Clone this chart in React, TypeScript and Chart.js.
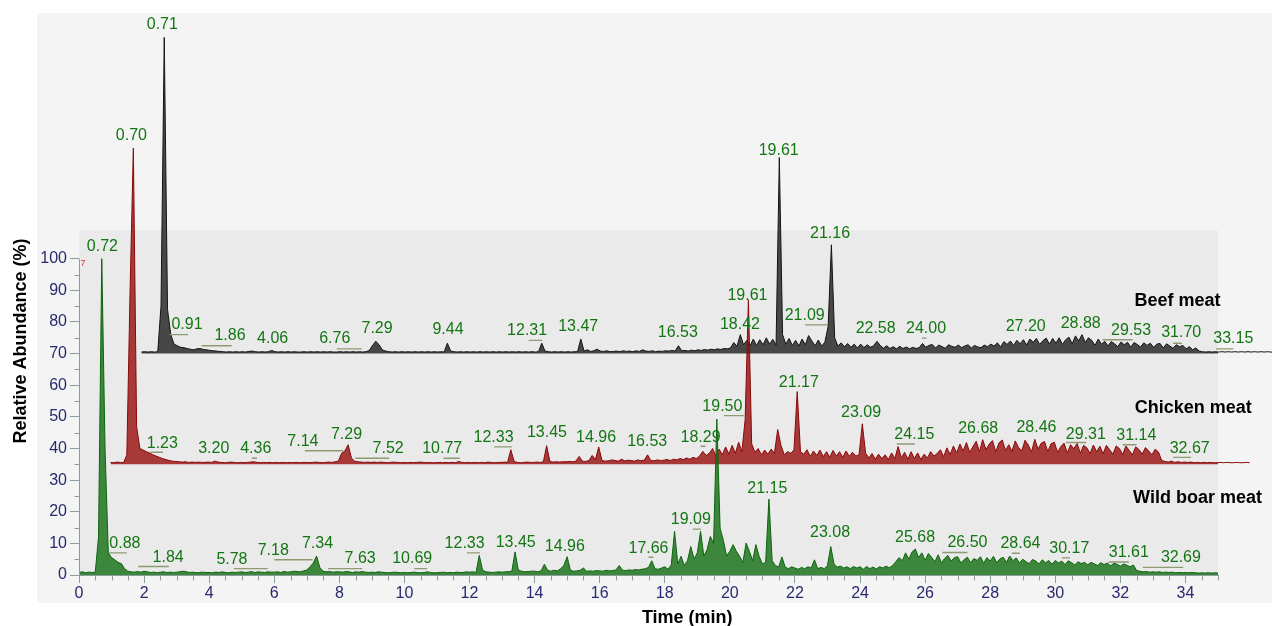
import React, { useEffect, useRef } from "react";
import { Chart, registerables } from "chart.js";

Chart.register(...registerables);

const FONT = "'Liberation Sans', Arial, Helvetica, sans-serif";

// Shared retention-time grid of every run (minutes)
const TIME_START = 0;
const TIME_STEP = 0.1;

// Relative abundance (%) of each run, one value per 0.1 min, 0.0 .. 35.0 min
const boarMeat: number[] = [
  0.8, 1.0, 0.7, 0.9, 0.8, 0.9, 12, 100, 40, 7.0,
  5.5, 4.8, 4.0, 3.6, 2.0, 1.2, 1.0, 0.9, 1.1, 0.9,
  1.2, 1.0, 0.8, 0.9, 0.7, 0.9, 1.0, 0.8, 0.9, 0.8,
  0.9, 1.0, 1.2, 1.0, 0.8, 0.9, 0.7, 0.8, 0.9, 0.8,
  0.8, 0.7, 0.9, 0.8, 1.0, 0.8, 0.7, 0.9, 0.8, 0.9,
  1.0, 0.8, 0.9, 1.1, 0.8, 1.0, 0.9, 0.8, 1.0, 0.9,
  0.9, 1.0, 0.8, 1.1, 0.9, 1.0, 1.2, 1.1, 1.0, 1.3,
  1.6, 2.6, 3.8, 6.0, 2.4, 1.2, 1.0, 1.1, 0.9, 1.0,
  1.0, 0.9, 1.1, 1.0, 0.8, 1.0, 0.9, 1.1, 0.9, 0.8,
  0.9, 0.8, 1.0, 0.9, 0.8, 0.7, 0.8, 0.9, 0.8, 0.7,
  0.8, 0.7, 0.8, 0.9, 0.8, 0.7, 0.8, 1.0, 0.8, 0.7,
  0.7, 0.8, 0.9, 0.7, 0.8, 0.7, 0.9, 0.8, 0.8, 1.0,
  0.9, 1.0, 0.8, 6.2, 1.6, 1.0, 0.9, 0.8, 0.9, 1.0,
  0.9, 1.0, 1.1, 1.2, 7.3, 1.5, 1.2, 1.0, 1.1, 1.2,
  1.2, 1.0, 1.3, 3.4, 1.5, 1.2, 1.5, 1.3, 2.0, 3.0,
  5.8, 1.5, 1.2, 1.3, 1.5, 2.2, 1.2, 1.3, 1.2, 1.4,
  1.3, 1.2, 1.5, 1.3, 1.4, 1.6, 3.0, 1.5, 1.4, 1.6,
  1.5, 1.7, 1.6, 1.8, 2.0, 2.4, 4.5, 2.0, 1.8, 2.2,
  2.6, 1.8, 3.2, 13.8, 3.5, 5.9, 3.0, 4.6, 9.0, 5.0,
  7.0, 13.8, 6.0, 8.0, 12.2, 10.0, 49.3, 14.8, 11.0, 6.0,
  7.5, 9.6, 7.5, 5.9, 4.0, 10.1, 7.5, 4.5, 9.6, 5.9,
  3.5, 4.0, 24.0, 4.5, 3.0, 2.5, 5.7, 2.5, 2.0, 2.6,
  2.2, 1.8, 2.4, 2.0, 2.6, 2.2, 4.8, 2.0, 2.4, 2.0,
  3.0, 9.0, 3.5, 2.5, 2.8, 2.2, 2.6, 2.0, 2.7, 2.2,
  2.6, 1.8, 2.7, 2.0, 2.5, 1.9, 2.6, 2.2, 2.8, 2.3,
  3.0, 4.2, 5.5, 4.5, 7.0, 5.0, 7.3, 8.2, 5.5, 7.0,
  4.6, 6.8, 5.6, 4.2, 6.4, 3.9, 5.2, 6.2, 4.4, 5.5,
  5.8, 3.8, 4.9, 5.6, 3.9, 5.2, 4.6, 5.8, 3.7, 5.5,
  4.4, 5.9, 3.9, 5.1, 5.6, 4.0, 6.0, 4.5, 5.4, 3.8,
  5.0, 4.2, 3.6, 4.9, 4.4, 3.5, 4.8, 3.9, 4.6, 3.4,
  4.6, 3.8, 4.4, 3.3, 4.5, 3.9, 3.2, 4.2, 3.6, 4.0,
  3.2, 4.0, 3.5, 3.0, 3.9, 3.3, 3.8, 2.9, 3.7, 3.4,
  2.8, 3.5, 3.1, 2.6, 3.2, 1.4, 1.2, 1.0, 1.1, 0.9,
  1.0, 0.9, 1.0, 0.8, 0.9, 0.8, 0.9, 0.7, 0.8, 0.7,
  0.8, 0.7, 0.8, 0.7, 0.6, 0.7, 0.6, 0.7, 0.6, 0.7,
  0.6,
];

const chickenMeat: number[] = [
  0.6, 0.5, 0.7, 0.6, 0.5, 3.0, 55, 100, 12, 5.0,
  4.5, 4.0, 3.6, 3.0, 2.6, 2.2, 1.8, 1.5, 1.2, 1.0,
  0.9, 0.8, 0.7, 0.8, 0.6, 0.7, 0.6, 0.7, 0.6, 0.6,
  0.7, 0.6, 1.0, 0.7, 0.6, 0.5, 0.6, 0.7, 0.6, 0.5,
  0.6, 0.5, 0.6, 0.7, 0.8, 0.6, 0.5, 0.6, 0.5, 0.6,
  0.5, 0.6, 0.5, 0.6, 0.5, 0.6, 0.5, 0.6, 0.5, 0.6,
  0.6, 0.5, 0.6, 0.7, 0.6, 0.5, 0.6, 0.7, 0.6, 0.8,
  1.0, 3.5, 4.2, 6.2, 2.0, 1.0, 0.8, 0.7, 0.6, 0.7,
  0.6, 0.7, 0.6, 0.7, 0.6, 0.5, 0.6, 0.7, 0.6, 0.5,
  0.6, 0.5, 0.6, 0.5, 0.6, 0.7, 0.6, 0.5, 0.6, 0.5,
  0.5, 0.6, 0.5, 0.6, 0.5, 0.6, 0.5, 0.9, 0.6, 0.5,
  0.6, 0.5, 0.6, 0.5, 0.6, 0.5, 0.7, 0.6, 0.5, 0.6,
  0.6, 0.7, 0.6, 4.6, 0.9, 0.6, 0.5, 0.6, 0.7, 0.6,
  0.6, 0.7, 0.6, 0.8, 5.9, 0.9, 0.7, 0.8, 0.7, 0.8,
  0.8, 0.9, 0.8, 1.0, 2.5, 1.0, 0.9, 1.2, 2.8, 1.5,
  5.5, 1.2, 1.0, 1.1, 1.4, 1.2, 1.0, 1.6, 1.1, 1.3,
  1.2, 1.0, 1.4, 1.1, 1.3, 3.0, 1.2, 1.1, 1.4, 1.2,
  1.3, 1.5, 1.2, 1.6, 1.4, 1.8, 1.5, 2.0, 1.6, 2.2,
  1.8, 2.6, 4.1, 2.8, 3.5, 5.0, 2.6, 4.8, 3.0, 5.5,
  3.2, 6.0, 3.5, 7.0, 4.0, 14.1, 52, 6.5, 3.8, 5.0,
  3.0, 4.5, 3.2, 4.8, 3.5, 11.0, 6.0, 3.0, 4.0, 3.5,
  4.5, 23.0, 4.0, 3.2, 4.6, 2.5, 4.2, 2.8, 4.5, 2.4,
  4.0, 2.2, 4.4, 2.6, 4.0, 2.2, 4.2, 2.5, 3.8, 2.6,
  3.0, 12.8, 3.6, 2.0, 3.4, 1.6, 3.2, 1.8, 3.0, 1.5,
  3.6, 1.8, 5.6, 2.0, 3.8, 1.6, 4.0, 1.8, 3.6, 1.5,
  3.2, 2.0, 4.0, 2.6, 3.4, 4.6, 2.4, 5.2, 3.1, 5.8,
  3.6, 6.4, 4.2, 6.9, 3.8, 5.6, 7.3, 4.0, 7.8, 4.6,
  6.4, 7.5, 3.9, 6.8, 7.7, 4.4, 6.2, 4.1, 7.4, 5.3,
  4.2, 7.6, 6.1, 3.9, 7.9, 4.8, 6.7, 7.2, 4.0, 6.5,
  7.0, 3.8, 5.6, 6.7, 3.6, 6.2, 4.9, 6.6, 3.5, 6.0,
  5.2, 3.4, 6.1, 4.0, 5.7, 3.3, 6.0, 4.6, 3.2, 5.8,
  5.0, 3.1, 5.8, 4.4, 3.0, 5.5, 4.7, 3.2, 5.3, 4.2,
  3.0, 4.8, 3.9, 1.2, 0.9, 0.7, 1.0, 0.6, 0.8, 0.6,
  0.7, 0.6, 0.7, 0.5, 0.6, 0.5, 0.6, 0.5, 0.6, 0.5,
  0.5, 0.6, 0.5, 0.6, 0.5, 0.5, 0.6, 0.5, 0.5, 0.6,
  0.5,
];

const beefMeat: number[] = [
  0.5, 0.6, 0.5, 0.6, 0.5, 0.6, 15, 100, 14, 6.0,
  3.0, 2.5, 2.0, 1.9, 1.6, 1.4, 1.2, 1.5, 1.6, 1.3,
  1.2, 1.0, 0.9, 0.8, 0.7, 0.6, 0.5, 0.6, 0.5, 0.6,
  0.5, 0.6, 0.5, 0.7, 0.8, 0.6, 0.5, 0.6, 0.5, 0.6,
  1.0, 0.6, 0.5, 0.6, 0.5, 0.6, 0.5, 0.6, 0.5, 0.5,
  0.6, 0.5, 0.6, 0.5, 0.6, 0.5, 0.6, 0.5, 0.6, 0.5,
  0.5, 0.6, 0.5, 0.6, 0.5, 0.6, 0.5, 0.6, 0.5, 0.6,
  1.0, 2.6, 3.9, 2.8, 1.2, 0.8, 0.6, 0.5, 0.6, 0.5,
  0.6, 0.5, 0.6, 0.5, 0.6, 0.5, 0.6, 0.5, 0.6, 0.5,
  0.6, 0.5, 0.6, 0.5, 3.3, 0.8, 0.6, 0.5, 0.6, 0.5,
  0.6, 0.5, 0.6, 0.5, 0.6, 0.5, 0.6, 0.5, 0.6, 0.5,
  0.6, 0.5, 0.6, 0.5, 0.6, 0.5, 0.6, 0.5, 0.6, 0.5,
  0.6, 0.5, 0.6, 3.3, 0.8, 0.6, 0.5, 0.6, 0.5, 0.6,
  0.5, 0.6, 0.5, 0.6, 0.6, 4.6, 0.8, 1.2, 0.7, 0.9,
  1.4, 0.8, 0.7, 0.9, 0.6, 0.7, 0.8, 0.6, 0.9, 0.7,
  0.8, 0.6, 0.9, 0.7, 1.2, 0.8, 0.7, 0.9, 0.6, 0.8,
  0.7, 0.9, 0.8, 1.0, 0.8, 2.5, 0.9, 1.0, 0.8, 1.1,
  0.9, 1.2, 1.0, 1.3, 1.1, 1.4, 1.2, 1.5, 1.3, 1.6,
  1.5, 1.8, 3.5, 2.3, 6.0, 2.8, 4.2, 2.5, 4.6, 2.6,
  4.4, 2.8, 5.0, 3.0, 4.5, 2.7, 62, 6.0, 3.0, 4.8,
  2.6, 4.2, 2.4, 4.6, 2.8, 5.7, 4.0, 2.5, 4.3, 2.4,
  3.6, 8.6, 34.4, 5.0, 2.4, 3.4, 2.2, 3.2, 2.0, 3.0,
  1.8, 3.0, 1.9, 2.8, 2.0, 2.5, 3.9, 2.6, 1.7, 2.5,
  1.6, 2.2, 1.5, 2.3, 1.6, 2.1, 1.5, 2.0, 1.6, 1.9,
  3.2, 2.0, 2.6, 2.9, 1.8, 2.7, 2.2, 1.7, 2.8, 2.3,
  2.0, 2.7, 1.9, 2.4, 2.8, 1.8, 2.6, 2.1, 1.9, 2.7,
  2.2, 3.0, 2.4, 3.4, 2.1, 3.8, 2.9, 4.0, 2.6, 4.2,
  3.1, 4.4, 2.7, 4.6, 3.6, 4.8, 2.9, 4.1, 4.9, 3.0,
  4.8, 3.3, 5.0, 2.9, 4.4, 5.2, 3.1, 5.6, 4.0, 6.0,
  3.5, 5.0, 4.2, 2.6, 4.6, 3.0, 3.9, 2.4, 3.8, 3.1,
  2.2, 3.7, 2.8, 3.6, 2.0, 3.5, 2.9, 2.1, 3.4, 2.6,
  3.3, 2.0, 3.0, 3.2, 1.8, 3.1, 2.4, 1.7, 2.8, 2.2,
  2.6, 1.5, 2.2, 1.2, 1.8, 0.8, 0.6, 0.5, 0.6, 0.5,
  0.6, 0.5, 0.6, 0.5, 0.6, 0.5, 0.6, 0.5, 0.6, 0.5,
  0.6, 0.5, 0.6, 0.5, 0.6, 0.5, 0.6, 0.5, 0.4, 0.5,
  0.5,
];

const seriesNames = ["Wild boar meat", "Chicken meat", "Beef meat"];
// stacking of the runs in the picture: shift in time (min) and in level (%)
const timeShifts = [0, 0.97, 1.92];
const levelShifts = [0, 35, 70];

const xTickValues = [0, 2, 4, 6, 8, 10, 12, 14, 16, 18, 20, 22, 24, 26, 28, 30, 32, 34];
const yTickValues = [0, 10, 20, 30, 40, 50, 60, 70, 80, 90, 100];

// peak annotations: [retention time text, plot time, plot level]
const boarPeakLabels: [string, number, number][] = [
  ["0.72", 0.72, 103.7], ["0.88", 1.41, 9.8], ["1.84", 2.74, 5.6], ["5.78", 4.7, 4.8],
  ["7.18", 5.97, 7.8], ["7.34", 7.33, 9.9], ["7.63", 8.64, 5.1], ["10.69", 10.24, 5.1],
  ["12.33", 11.85, 9.9], ["13.45", 13.42, 10.3], ["14.96", 14.93, 9.0], ["17.66", 17.5, 8.5],
  ["19.09", 18.8, 17.5], ["21.15", 21.15, 27.2], ["23.08", 23.08, 13.3], ["25.68", 25.69, 11.7],
  ["26.50", 27.3, 10.3], ["28.64", 28.93, 9.9], ["30.17", 30.43, 8.5], ["31.61", 32.26, 7.1],
  ["32.69", 33.86, 5.4],
];
const chickenPeakLabels: [string, number, number][] = [
  ["0.70", 1.61, 138.9], ["1.23", 2.56, 41.5], ["3.20", 4.14, 40.1], ["4.36", 5.43, 39.9],
  ["7.14", 6.88, 42.2], ["7.29", 8.22, 44.4], ["7.52", 9.5, 39.9], ["10.77", 11.16, 39.9],
  ["12.33", 12.74, 43.6], ["13.45", 14.38, 44.9], ["14.96", 15.89, 43.6], ["16.53", 17.46, 42.2],
  ["18.29", 19.1, 43.6], ["19.50", 19.77, 53.3], ["19.61", 20.54, 88.3], ["21.17", 22.12, 60.7],
  ["23.09", 24.03, 51.2], ["24.15", 25.67, 44.4], ["26.68", 27.63, 46.3], ["28.46", 29.42, 46.5],
  ["29.31", 30.94, 44.4], ["31.14", 32.49, 44.0], ["32.67", 34.13, 40.1],
];
const beefPeakLabels: [string, number, number][] = [
  ["0.71", 2.56, 174.0], ["0.91", 3.32, 79.1], ["1.86", 4.64, 75.7], ["4.06", 5.95, 74.9],
  ["6.76", 7.86, 74.9], ["7.29", 9.16, 77.8], ["9.44", 11.34, 77.6], ["12.31", 13.77, 77.3],
  ["13.47", 15.34, 78.4], ["16.53", 18.4, 76.5], ["18.42", 20.31, 79.1], ["19.61", 21.5, 134.2],
  ["21.09", 22.3, 82.1], ["21.16", 23.08, 108.1], ["22.58", 24.48, 77.9], ["24.00", 26.03, 77.9],
  ["27.20", 29.09, 78.4], ["28.88", 30.78, 79.5], ["29.53", 32.33, 77.3], ["31.70", 33.87, 76.5],
  ["33.15", 35.47, 74.6],
];

// annotation leader strokes: [from time, to time, level]
const boarLeaders: [number, number, number][] = [
  [0.92, 1.47, 7.0], [1.82, 2.76, 2.7], [4.76, 5.8, 2.0], [6.0, 7.18, 4.8], [7.65, 8.7, 2.0],
  [10.3, 10.7, 2.0], [11.92, 12.32, 7.0], [17.5, 17.65, 5.6], [18.86, 19.11, 14.5],
  [26.53, 27.3, 7.1], [28.66, 28.91, 6.9], [30.2, 30.45, 5.4], [31.64, 32.26, 4.1], [32.69, 33.93, 2.4],
];
const chickenLeaders: [number, number, number][] = [
  [2.2, 2.58, 38.8], [5.31, 5.47, 36.9], [6.94, 8.11, 39.3], [8.49, 9.53, 36.9], [11.2, 11.7, 36.9],
  [12.76, 13.3, 40.5], [19.1, 19.25, 40.7], [19.82, 20.43, 50.4], [25.13, 25.68, 41.4],
  [30.33, 30.95, 41.9], [32.07, 32.5, 41.2], [33.62, 34.17, 37.2],
];
const beefLeaders: [number, number, number][] = [
  [2.79, 3.35, 76.0], [3.77, 4.69, 72.5], [7.92, 8.69, 71.5], [13.82, 14.23, 74.2], [22.31, 23.0, 79.1],
  [25.9, 26.04, 74.9], [31.45, 32.37, 74.4], [33.62, 33.89, 73.3], [34.94, 35.47, 71.5],
];

// ---------- styling ----------
const X_MAX = 35;
const Y_MAX = 177.7;
const PANEL_LEVEL = 108.9;
const AXIS_COLOR = "#8a9c9c";
const TICK_TEXT = "#29296f";
const LABEL_GREEN = "#137513";
const LEADER_COLOR = "#8d9a72";
const lineColors = ["#0c650c", "#8a0808", "#141414"];
const fillColors = ["rgba(18,110,18,0.8)", "rgba(150,12,12,0.8)", "rgba(30,30,30,0.8)"];
// series name anchors: [right-edge time, level]
const nameAnchors: [number, number][] = [[36.35, 24.4], [36.04, 52.8], [35.08, 86.5]];

const overlayPlugin = {
  id: "overlay",
  beforeDraw(chart: any) {
    const { ctx, chartArea: a, scales } = chart;
    const y = scales.y;
    ctx.save();
    ctx.fillStyle = "#f4f4f4";
    const left = a.left - 42;
    ctx.fillRect(left, a.top, chart.width - left, a.bottom + 28 - a.top);
    ctx.fillStyle = "#eaeaea";
    const top = y.getPixelForValue(PANEL_LEVEL);
    ctx.fillRect(a.left, top, a.right - a.left, a.bottom - top);
    ctx.restore();
  },
  afterDraw(chart: any) {
    const { ctx, chartArea: a, scales } = chart;
    const x = scales.x;
    const y = scales.y;
    ctx.save();
    // y axis line (0..100) and minor ticks
    const ax = Math.round(a.left) + 0.5;
    ctx.strokeStyle = AXIS_COLOR;
    ctx.lineWidth = 1;
    ctx.beginPath();
    ctx.moveTo(ax, y.getPixelForValue(0));
    ctx.lineTo(ax, y.getPixelForValue(100));
    for (let v = 5; v < 100; v += 10) {
      const py = Math.round(y.getPixelForValue(v)) + 0.5;
      ctx.moveTo(ax - 5, py);
      ctx.lineTo(ax, py);
    }
    const by = Math.round(a.bottom) + 0.5;
    for (let t = 0.5; t <= X_MAX; t += 0.5) {
      if (Math.abs(t / 2 - Math.round(t / 2)) < 1e-6) continue;
      const px = Math.round(x.getPixelForValue(t)) + 0.5;
      ctx.moveTo(px, by);
      ctx.lineTo(px, by + 5);
    }
    ctx.stroke();

    // leaders
    ctx.strokeStyle = LEADER_COLOR;
    ctx.lineWidth = 1.4;
    ctx.beginPath();
    [boarLeaders, chickenLeaders, beefLeaders].forEach((list) => {
      list.forEach(([t1, t2, lv]) => {
        const py = y.getPixelForValue(lv);
        ctx.moveTo(x.getPixelForValue(t1), py);
        ctx.lineTo(x.getPixelForValue(t2), py);
      });
    });
    ctx.stroke();

    // peak labels
    ctx.fillStyle = LABEL_GREEN;
    ctx.font = `16px ${FONT}`;
    ctx.textAlign = "center";
    ctx.textBaseline = "middle";
    [boarPeakLabels, chickenPeakLabels, beefPeakLabels].forEach((list) => {
      list.forEach(([txt, t, lv]) => {
        ctx.fillText(txt, x.getPixelForValue(t), y.getPixelForValue(lv));
      });
    });

    // series names
    ctx.fillStyle = "#000";
    ctx.font = `bold 18px ${FONT}`;
    ctx.textAlign = "right";
    seriesNames.forEach((nm, i) => {
      const [t, lv] = nameAnchors[i];
      ctx.fillText(nm, x.getPixelForValue(t), y.getPixelForValue(lv));
    });

    // axis titles
    ctx.textAlign = "center";
    ctx.fillText("Time (min)", x.getPixelForValue(18.69), a.bottom + 43);
    ctx.save();
    ctx.translate(a.left - 57.5, y.getPixelForValue(74));
    ctx.rotate(-Math.PI / 2);
    ctx.fillText("Relative Abundance (%)", 0, 0);
    ctx.restore();

    // small red marker at the top of the axis
    ctx.fillStyle = "#e03030";
    ctx.font = `9px ${FONT}`;
    ctx.textAlign = "left";
    ctx.fillText("7", ax + 1, y.getPixelForValue(98.5));
    ctx.restore();
  },
};

export default function App() {
  const ref = useRef<HTMLCanvasElement | null>(null);

  useEffect(() => {
    document.body.style.margin = "0";
    document.body.style.overflow = "hidden";
    const runs = [boarMeat, chickenMeat, beefMeat];
    const datasets = runs.map((vals, i) => ({
      label: seriesNames[i],
      data: vals.map((v, k) => ({
        x: TIME_START + k * TIME_STEP + timeShifts[i],
        y: v + levelShifts[i],
      })),
      borderColor: lineColors[i],
      backgroundColor: fillColors[i],
      borderWidth: 1,
      pointRadius: 0,
      tension: 0,
      fill: { value: levelShifts[i] },
      clip: false as any,
    }));

    const chart = new Chart(ref.current as HTMLCanvasElement, {
      type: "line",
      data: { datasets } as any,
      options: {
        responsive: false,
        animation: false,
        layout: { padding: { left: 0, top: 13, right: 54, bottom: 0 } },
        plugins: { legend: { display: false }, tooltip: { enabled: false } },
        scales: {
          x: {
            type: "linear",
            bounds: "data",
            afterDataLimits: (s: any) => {
              s.min = 0;
              s.max = X_MAX;
            },
            afterBuildTicks: (s: any) => {
              s.ticks = xTickValues.map((v) => ({ value: v }));
            },
            afterFit: (s: any) => {
              s.height = 51;
            },
            grid: {
              display: true,
              drawOnChartArea: false,
              drawTicks: true,
              tickLength: 8,
              tickColor: AXIS_COLOR,
              tickWidth: 1,
            },
            border: { display: true, color: AXIS_COLOR, width: 1 },
            ticks: {
              autoSkip: false,
              maxRotation: 0,
              padding: 1,
              color: TICK_TEXT,
              font: { size: 16, family: FONT },
            },
          },
          y: {
            type: "linear",
            min: 0,
            max: Y_MAX,
            afterBuildTicks: (s: any) => {
              s.ticks = yTickValues.map((v) => ({ value: v }));
            },
            afterFit: (s: any) => {
              s.width = 79;
            },
            grid: {
              display: true,
              drawOnChartArea: false,
              drawTicks: true,
              tickLength: 9,
              tickColor: AXIS_COLOR,
              tickWidth: 1,
            },
            border: { display: false },
            ticks: {
              padding: 3,
              color: TICK_TEXT,
              font: { size: 16, family: FONT },
            },
          },
        },
      } as any,
      plugins: [overlayPlugin],
    });
    return () => chart.destroy();
  }, []);

  return (
    <div style={{ width: 1272, height: 626, position: "relative" }}>
      <canvas ref={ref} width={1272} height={626} style={{ display: "block" }} />
    </div>
  );
}
